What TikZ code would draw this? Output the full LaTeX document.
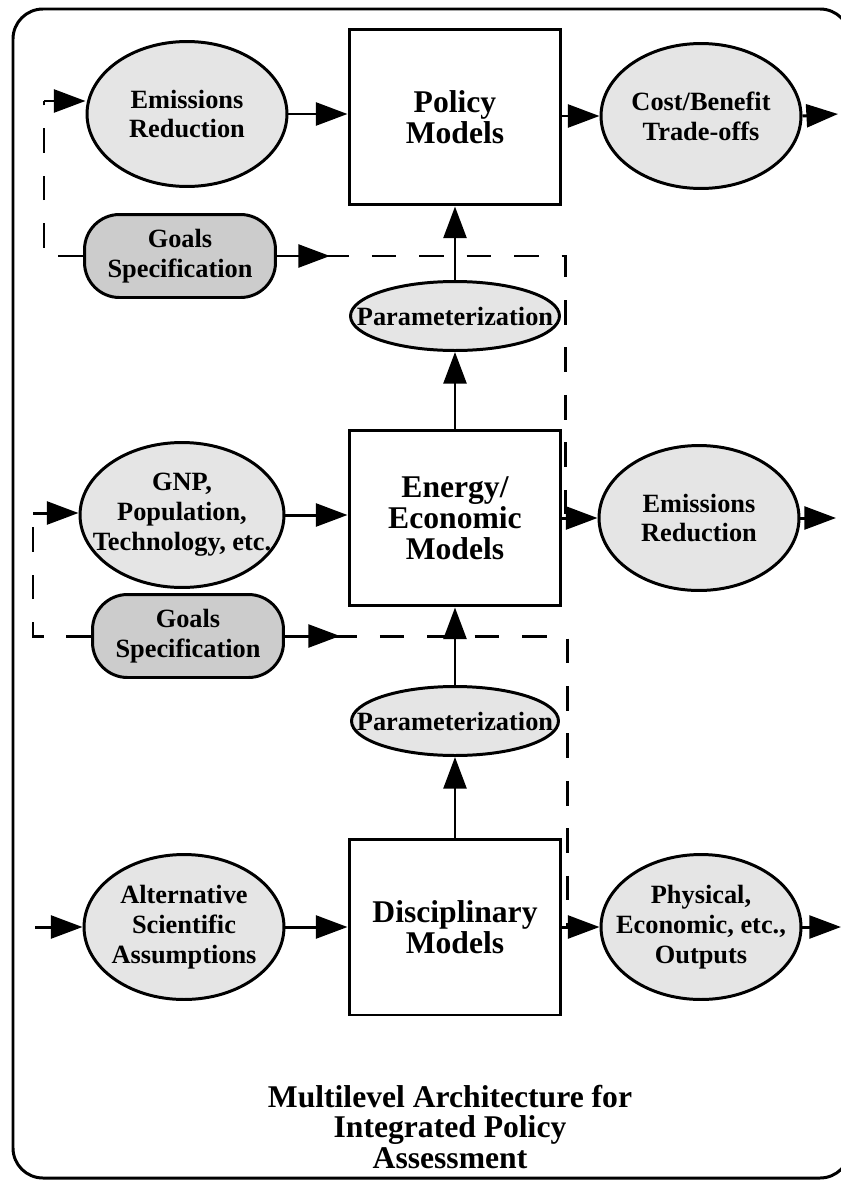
\documentclass[tikz,border=0pt]{standalone}
\usepackage{fontspec}
\setmainfont{Liberation Serif}
\usetikzlibrary{shapes.geometric,arrows.meta}
\tikzset{
	model/.style={draw,line width=1.7pt,minimum width=4.24cm,minimum height=3.52cm,align=center,font=\bfseries\fontsize{18}{17.6}\selectfont},
	oval/.style={ellipse,draw,line width=1.7pt,fill=gray!20,minimum width=4cm,minimum height=2.9cm,inner sep=0pt,
		label={[align=center,inner sep=0pt,font=\bfseries\fontsize{15}{17}\selectfont]center:{#1}}},
	goal/.style={draw,line width=1.7pt,fill=gray!40,rounded corners=0.7cm,minimum width=3.82cm,minimum height=1.66cm,align=center,font=\bfseries\fontsize{15}{17}\selectfont},
	arr/.style={line width=1.7pt,-{Triangle[length=18pt,width=13pt]}},
	dashline/.style={line width=1.7pt,dash pattern=on 14pt off 13pt},
}
\begin{document}
\begin{tikzpicture}[x=0.02cm,y=-0.02cm]
	\useasboundingbox (0,0) rectangle (841,1180);
	\clip (0,0) rectangle (841,1180);
	\draw[line width=1.7pt,rounded corners=0.6cm] (13,9) rectangle (850,1178);

	\node[model] (policy) at (455,117) {Policy\\Models};
	\node[model] (energy) at (455,518) {Energy/\\Economic\\Models};
	\node[model] (disc) at (455,927) {Disciplinary\\Models};

	\node[oval={Emissions\\Reduction}] (emisA) at (187,114) {};
	\node[oval={Cost/Benefit\\Trade-offs}] (cost) at (701,116) {};
	\node[oval={GNP,\\Population,\\Technology, etc.},minimum width=4.08cm] (gnp) at (182,515) {};
	\node[oval={Emissions\\Reduction}] (emisB) at (699,518) {};
	\node[oval={Alternative\\Scientific\\Assumptions}] (alt) at (184,927) {};
	\node[oval={Physical,\\Economic, etc.,\\Outputs}] (phys) at (701,927) {};
	\node[oval={Parameterization},minimum width=4.18cm,minimum height=1.38cm] (paramA) at (455,316) {};
	\node[oval={Parameterization},minimum width=4.14cm,minimum height=1.38cm] (paramB) at (455,721) {};

	\node[goal] (goalsA) at (180,256) {Goals\\Specification};
	\node[goal] (goalsB) at (188,636) {Goals\\Specification};

	\coordinate (inA) at (44,101);
	\coordinate (tipA) at (330,256);
	\coordinate (tapA) at (565,518);
	\coordinate (inB) at (33,513);
	\coordinate (tipB) at (340,636);
	\coordinate (tapB) at (567,927);
	\coordinate (inC) at (35,927);
	\coordinate (outA) at (838,114);
	\coordinate (outB) at (836,518);
	\coordinate (outC) at (841,927);

	\draw[dashline] (goalsA.west) -| (inA);
	\draw[dashline] (goalsA.east) -| (tapA);
	\draw[dashline] (goalsB.west) -| (inB);
	\draw[dashline] (goalsB.east) -| (tapB);
	\draw[arr] (goalsA.east) -- (tipA);
	\draw[arr] (goalsB.east) -- (tipB);

	\draw[arr] (inA) -- (inA -| emisA.west);
	\draw[arr] (emisA.east) -- (emisA.east -| policy.west);
	\draw[arr] (cost.west -| policy.east) -- (cost.west);
	\draw[arr] (cost.east) -- (outA);

	\draw[arr] (inB) -- (inB -| gnp.west);
	\draw[arr] (gnp.east) -- (gnp.east -| energy.west);
	\draw[arr] (energy.east) -- (emisB.west);
	\draw[arr] (emisB.east) -- (outB);

	\draw[arr] (inC) -- (alt.west);
	\draw[arr] (alt.east) -- (disc.west);
	\draw[arr] (disc.east) -- (phys.west);
	\draw[arr] (phys.east) -- (outC);

	\draw[arr] (disc.north) -- (paramB.south);
	\draw[arr] (paramB.north) -- (energy.south);
	\draw[arr] (energy.north) -- (paramA.south);
	\draw[arr] (paramA.north) -- (policy.south);

	\node[align=center,font=\bfseries\fontsize{18}{17.6}\selectfont] (title) at (450,1127) {Multilevel Architecture for\\Integrated Policy\\Assessment};
\end{tikzpicture}
\end{document}
